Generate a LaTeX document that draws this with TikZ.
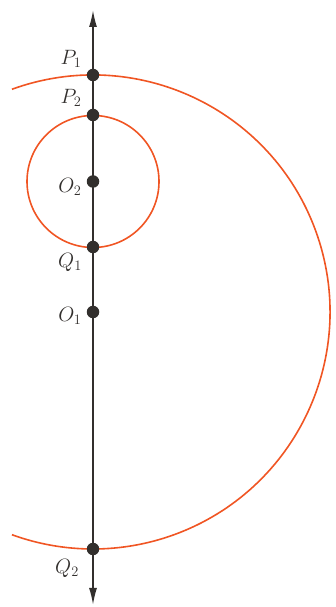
\documentclass[tikz,border=0pt]{standalone}
\usetikzlibrary{arrows.meta}
\definecolor{arcred}{RGB}{240,85,35}
\definecolor{axisgray}{RGB}{50,47,45}
\begin{document}
\begin{tikzpicture}[x=1pt,y=1pt,
  dot/.style={circle,fill=axisgray,inner sep=0pt,minimum size=12.5pt},
  lbl/.style={text=axisgray,font=\fontsize{22}{26}\selectfont},
  curve/.style={draw=arcred,line width=1.6pt},
  axis/.style={draw=axisgray,line width=1.6pt,{Latex[length=17pt,width=8pt]}-{Latex[length=17pt,width=8pt]}}]
\useasboundingbox (0,0) rectangle (335,607);
\coordinate (top) at (93,597);
\coordinate (bot) at (93,2);
\coordinate (C1) at (93,295);
\coordinate (C2) at (93,425.5);
\draw[curve] (C1) ++(110:237) arc (110:-110:237);
\draw[curve] (C2) circle (66);
\draw[axis] (bot) -- (top);
\node[dot] (P1) at (93,532) {};
\node[dot] (P2) at (93,492) {};
\node[dot] (O2) at (93,425.5) {};
\node[dot] (Q1) at (93,360) {};
\node[dot] (O1) at (93,295) {};
\node[dot] (Q2) at (93,58) {};
\node[lbl] (lP1) at (71,548) {$P_1$};
\node[lbl] (lP2) at (71,509) {$P_2$};
\node[lbl] (lO2) at (70,420) {$O_2$};
\node[lbl] (lQ1) at (70,345) {$Q_1$};
\node[lbl] (lO1) at (70,291) {$O_1$};
\node[lbl] (lQ2) at (67,39) {$Q_2$};
\end{tikzpicture}
\end{document}
